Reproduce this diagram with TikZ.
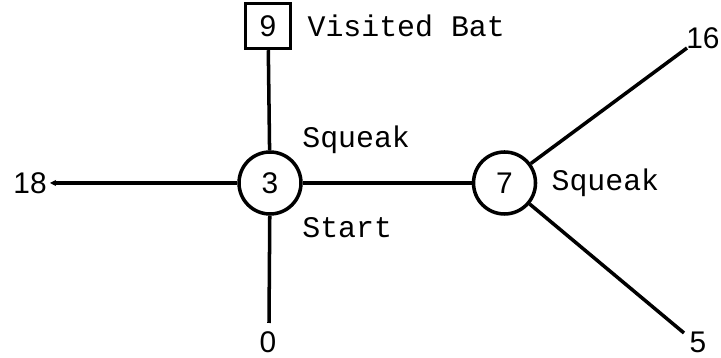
\documentclass[tikz,border=0pt]{standalone}
\usepackage{fontspec}
\setmainfont{Liberation Sans}
\newfontfamily\labfont{Liberation Mono}
\usetikzlibrary{arrows}
\usetikzlibrary{arrows.meta}
\usetikzlibrary{positioning}
\usetikzlibrary{calc}

\begin{document}
\begin{tikzpicture}
  [
    node distance = 2.1cm,
    state/.style = {line width = 2pt, circle, draw, minimum size = 1.24cm,
                    inner sep = 0pt, font = \fontsize{17}{17}\selectfont},
    visited/.style = {line width = 2pt, rectangle, draw, minimum size = 0.9cm,
                      inner sep = 0pt, font = \fontsize{17}{17}\selectfont},
    label/.style = {rectangle, inner sep = 0pt, anchor = west,
                    font = \labfont\fontsize{17}{17}\selectfont},
    num/.style = {inner sep = 0pt, font = \fontsize{17}{17}\selectfont},
    link/.style = {line width = 2pt},
    arrow-out/.style = {link, -{Stealth[length = 3.5pt, width = 3.5pt]}},
  ]
  \useasboundingbox (0,0) rectangle (14.42,7.16);

  \node[state] at (5.40,3.50) (bat3) {3};
  \node[state] [right = 3.38cm of bat3] (bat7) {7};
  \node[visited] [above = 2.00cm of bat3, xshift = -0.04cm] (bat9) {9};

  \node[label] [right = 0.3cm of bat9] (lab9) {Visited Bat};
  \node[label] at ($(bat3) + (0.64,0.86)$) (sq3) {Squeak};
  \node[label] at ($(bat3) + (0.64,-0.90)$) (start3) {Start};
  \node[label] [right = 0.28cm of bat7] (sq7) {Squeak};

  \coordinate (end18) at (1.00,3.50);
  \coordinate (end0) at (5.38,0.70);
  \coordinate (end16) at (13.74,6.20);
  \coordinate (end5) at (13.68,0.50);

  \node[num] [left = 0.06cm of end18] (n18) {18};
  \node[num] at (5.36,0.32) (n0) {0};
  \node[num] at (14.06,6.40) (n16) {16};
  \node[num] at (13.96,0.32) (n5) {5};

  \draw[link] (bat9) -- (bat3);
  \draw[arrow-out] (bat3) -- (end18);
  \draw[link] (bat3) -- (bat7);
  \draw[link] (bat3) -- (end0);
  \draw[link] (bat7) -- (end16);
  \draw[link] (bat7) -- (end5);
\end{tikzpicture}
\end{document}
